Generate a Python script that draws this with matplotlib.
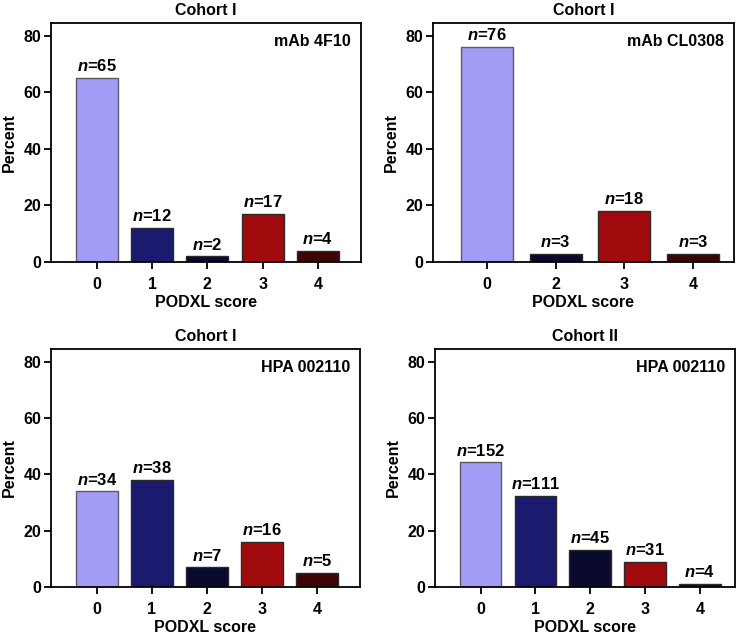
import matplotlib
matplotlib.use("Agg")
import matplotlib.pyplot as plt

plt.rcParams['font.family'] = ['Liberation Sans', 'DejaVu Sans']
plt.rcParams['font.weight'] = 'bold'
plt.rcParams['mathtext.fontset'] = 'custom'
plt.rcParams['mathtext.it'] = 'Liberation Sans:italic:bold'
plt.rcParams['mathtext.rm'] = 'Liberation Sans:bold'

# score colours
score_colors = {0: '#a29cf5', 1: '#1a1a6e', 2: '#0a0a2e', 3: '#a00a0c', 4: '#3c0505'}

# panel data
titles = ['Cohort I', 'Cohort I', 'Cohort I', 'Cohort II']
markers = ['mAb 4F10', 'mAb CL0308', 'HPA 002110', 'HPA 002110']
scores = [[0, 1, 2, 3, 4], [0, 2, 3, 4], [0, 1, 2, 3, 4], [0, 1, 2, 3, 4]]
percents = [
    [65, 12, 2, 17, 4],
    [76, 3, 18, 3],
    [34, 38, 7, 16, 5],
    [44.3, 32.4, 13.1, 9.0, 1.2],
]
counts = [
    [65, 12, 2, 17, 4],
    [76, 3, 18, 3],
    [34, 38, 7, 16, 5],
    [152, 111, 45, 31, 4],
]

# axes boxes in pixels: left, right, top, bottom
W, H = 744, 636
boxes = [(51, 361, 23, 262), (433, 734, 23, 262), (51, 360, 349, 587), (435, 735, 349, 587)]
xlims = [(-0.83, 4.78), (-0.79, 3.6), (-0.83, 4.78), (-0.83, 4.64)]

fs = 11.5

fig = plt.figure(figsize=(W / 100, H / 100), dpi=100)

for i in range(4):
    l, r, t, b = boxes[i]
    ax = fig.add_axes([l / W, 1 - b / H, (r - l) / W, (b - t) / H])
    pos = list(range(len(scores[i])))
    cols = [score_colors[s] for s in scores[i]]
    edges = ['#5a5a6a' if s == 0 else '#2a2a2a' for s in scores[i]]
    ax.bar(pos, percents[i], width=0.76, color=cols, edgecolor=edges, linewidth=1.0)
    for x, p, n in zip(pos, percents[i], counts[i]):
        ax.text(x, p + 1.3, r'$\mathit{n}$=' + str(n), ha='center', va='bottom',
                fontsize=12, fontweight='bold')
    ax.set_xlim(*xlims[i])
    ax.set_ylim(0, 84.5)
    ax.set_yticks([0, 20, 40, 60, 80])
    ax.set_xticks(pos)
    ax.set_xticklabels([str(s) for s in scores[i]])
    ax.tick_params(direction='out', length=5, width=1.3, labelsize=fs)
    ax.tick_params(axis='x', pad=6)
    ax.tick_params(axis='y', pad=2)
    for sp in ax.spines.values():
        sp.set_linewidth(1.3)
    ax.set_ylabel('Percent', fontsize=fs, fontweight='bold', labelpad=5)
    ax.set_xlabel('PODXL score', fontsize=fs, fontweight='bold', labelpad=2)
    ax.set_title(titles[i], fontsize=fs, fontweight='bold', pad=6)
    ax.text(1 - 10 / (r - l), 1 - 19 / (b - t), markers[i], transform=ax.transAxes,
            ha='right', va='center', fontsize=fs, fontweight='bold')

fig.savefig('out.png', dpi=100)
